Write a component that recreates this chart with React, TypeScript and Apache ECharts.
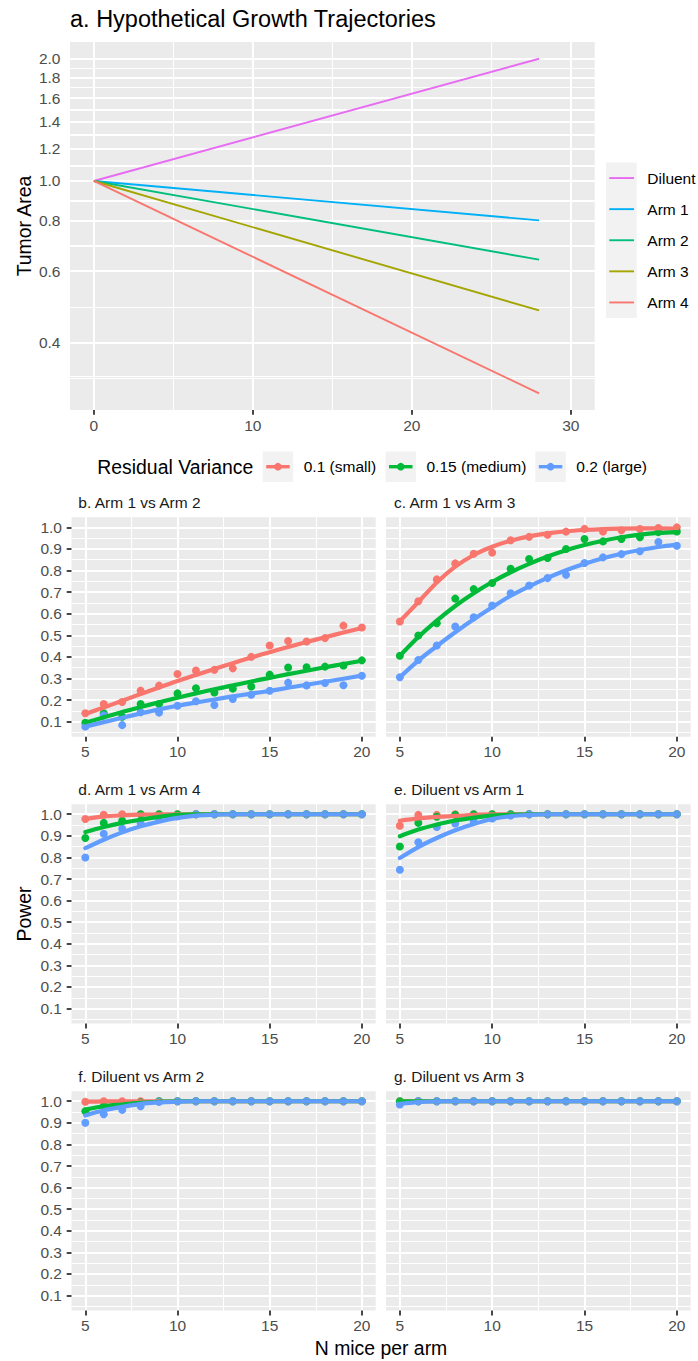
import React, { useEffect, useRef } from 'react';
import * as echarts from 'echarts';

// ---------- Panel a: hypothetical growth trajectories ----------
const growthDays = [0, 28];
const growthArms = ['Diluent', 'Arm 1', 'Arm 2', 'Arm 3', 'Arm 4'];
const growthColors = ['#E76BF3', '#00B0F6', '#00BF7D', '#A3A500', '#F8766D'];
const diluentArea = [1.0, 2.0];
const arm1Area = [1.0, 0.8];
const arm2Area = [1.0, 0.64];
const arm3Area = [1.0, 0.48];
const arm4Area = [1.0, 0.3];
const areaTicks = [0.4, 0.6, 0.8, 1.0, 1.2, 1.4, 1.6, 1.8, 2.0];
const areaMinorTicks = [0.327, 0.49, 0.693, 0.894, 1.095, 1.296, 1.497, 1.697, 1.897];
const dayTicks = [0, 10, 20, 30];
const dayMinorTicks = [5, 15, 25];

// ---------- Panels b-g: power ----------
const nMice = [5, 6, 7, 8, 9, 10, 11, 12, 13, 14, 15, 16, 17, 18, 19, 20];
const varianceLabels = ['0.1 (small)', '0.15 (medium)', '0.2 (large)'];
const varianceColors = ['#F8766D', '#00BA38', '#619CFF'];
const powerTicks = [0.1, 0.2, 0.3, 0.4, 0.5, 0.6, 0.7, 0.8, 0.9, 1.0];
const powerMinorTicks = [0.05, 0.15, 0.25, 0.35, 0.45, 0.55, 0.65, 0.75, 0.85, 0.95];
const nTicks = [5, 10, 15, 20];
const nMinorTicks = [7.5, 12.5, 17.5];
const panelTitles = [
  'b. Arm 1 vs Arm 2',
  'c. Arm 1 vs Arm 3',
  'd. Arm 1 vs Arm 4',
  'e. Diluent vs Arm 1',
  'f. Diluent vs Arm 2',
  'g. Diluent vs Arm 3',
];

const bSmallPts = [0.139, 0.182, 0.191, 0.244, 0.267, 0.321, 0.337, 0.34, 0.347, 0.4, 0.453, 0.474, 0.471, 0.487, 0.545, 0.536];
const bSmallFit = [0.136, 0.166, 0.197, 0.228, 0.258, 0.288, 0.316, 0.344, 0.371, 0.397, 0.422, 0.446, 0.469, 0.491, 0.513, 0.534];
const bMediumPts = [0.095, 0.139, 0.123, 0.182, 0.182, 0.231, 0.255, 0.235, 0.253, 0.263, 0.318, 0.351, 0.352, 0.355, 0.36, 0.384];
const bMediumFit = [0.095, 0.12, 0.145, 0.168, 0.19, 0.211, 0.231, 0.25, 0.268, 0.286, 0.303, 0.32, 0.336, 0.352, 0.367, 0.382];
const bLargePts = [0.077, 0.13, 0.084, 0.144, 0.142, 0.174, 0.195, 0.177, 0.205, 0.225, 0.243, 0.281, 0.268, 0.279, 0.269, 0.313];
const bLargeFit = [0.077, 0.098, 0.118, 0.138, 0.157, 0.174, 0.189, 0.203, 0.217, 0.23, 0.243, 0.257, 0.271, 0.285, 0.299, 0.313];

const cSmallPts = [0.564, 0.658, 0.759, 0.833, 0.878, 0.883, 0.94, 0.956, 0.966, 0.98, 0.993, 0.981, 0.986, 0.992, 0.997, 1.0];
const cSmallFit = [0.565, 0.654, 0.745, 0.818, 0.872, 0.91, 0.938, 0.958, 0.972, 0.982, 0.988, 0.992, 0.994, 0.995, 0.995, 0.993];
const cMediumPts = [0.405, 0.499, 0.556, 0.67, 0.714, 0.742, 0.808, 0.853, 0.858, 0.9, 0.946, 0.935, 0.946, 0.954, 0.978, 0.981];
const cMediumFit = [0.405, 0.492, 0.568, 0.636, 0.695, 0.747, 0.792, 0.831, 0.865, 0.894, 0.918, 0.938, 0.954, 0.966, 0.974, 0.978];
const cLargePts = [0.306, 0.386, 0.453, 0.541, 0.584, 0.638, 0.695, 0.731, 0.765, 0.78, 0.835, 0.861, 0.876, 0.889, 0.932, 0.915];
const cLargeFit = [0.306, 0.383, 0.45, 0.514, 0.574, 0.63, 0.683, 0.727, 0.766, 0.801, 0.831, 0.857, 0.878, 0.895, 0.909, 0.92];

const dSmallPts = [0.978, 0.998, 1, 1, 1, 1, 1, 1, 1, 1, 1, 1, 1, 1, 1, 1];
const dSmallFit = [0.978, 0.99, 0.995, 0.998, 0.999, 1, 1, 1, 1, 1, 1, 1, 1, 1, 1, 1];
const dMediumPts = [0.89, 0.96, 0.97, 1, 1, 1, 1, 1, 1, 1, 1, 1, 1, 1, 1, 1];
const dMediumFit = [0.918, 0.941, 0.96, 0.975, 0.988, 0.997, 1, 1, 1, 1, 1, 1, 1, 1, 1, 1];
const dLargePts = [0.8, 0.91, 0.933, 0.96, 0.98, 0.99, 1, 1, 1, 1, 1, 1, 1, 1, 1, 1];
const dLargeFit = [0.843, 0.882, 0.916, 0.944, 0.966, 0.983, 0.994, 0.998, 1, 1, 1, 1, 1, 1, 1, 1];

const eSmallPts = [0.947, 0.997, 0.997, 1, 1, 1, 1, 1, 1, 1, 1, 1, 1, 1, 1, 1];
const eSmallFit = [0.97, 0.981, 0.988, 0.992, 0.997, 1, 1, 1, 1, 1, 1, 1, 1, 1, 1, 1];
const eMediumPts = [0.851, 0.96, 0.988, 0.997, 1, 1, 1, 1, 1, 1, 1, 1, 1, 1, 1, 1];
const eMediumFit = [0.898, 0.929, 0.952, 0.971, 0.984, 0.994, 0.998, 1, 1, 1, 1, 1, 1, 1, 1, 1];
const eLargePts = [0.743, 0.87, 0.941, 0.957, 0.967, 0.98, 0.994, 1, 1, 1, 1, 1, 1, 1, 1, 1];
const eLargeFit = [0.797, 0.848, 0.89, 0.926, 0.955, 0.978, 0.991, 0.997, 1, 1, 1, 1, 1, 1, 1, 1];

const fSmallPts = [0.998, 1, 1, 1, 1, 1, 1, 1, 1, 1, 1, 1, 1, 1, 1, 1];
const fSmallFit = [0.998, 0.999, 1, 1, 1, 1, 1, 1, 1, 1, 1, 1, 1, 1, 1, 1];
const fMediumPts = [0.954, 0.977, 0.985, 0.995, 1, 1, 1, 1, 1, 1, 1, 1, 1, 1, 1, 1];
const fMediumFit = [0.961, 0.977, 0.985, 0.992, 0.997, 1, 1, 1, 1, 1, 1, 1, 1, 1, 1, 1];
const fLargePts = [0.9, 0.94, 0.96, 0.977, 0.997, 1, 1, 1, 1, 1, 1, 1, 1, 1, 1, 1];
const fLargeFit = [0.934, 0.958, 0.974, 0.988, 0.995, 0.998, 1, 1, 1, 1, 1, 1, 1, 1, 1, 1];

const gSmallPts = [1, 1, 1, 1, 1, 1, 1, 1, 1, 1, 1, 1, 1, 1, 1, 1];
const gSmallFit = [1, 1, 1, 1, 1, 1, 1, 1, 1, 1, 1, 1, 1, 1, 1, 1];
const gMediumPts = [1, 1, 1, 1, 1, 1, 1, 1, 1, 1, 1, 1, 1, 1, 1, 1];
const gMediumFit = [1, 1, 1, 1, 1, 1, 1, 1, 1, 1, 1, 1, 1, 1, 1, 1];
const gLargePts = [0.985, 1, 1, 1, 1, 1, 1, 1, 1, 1, 1, 1, 1, 1, 1, 1];
const gLargeFit = [0.988, 0.996, 0.999, 1, 1, 1, 1, 1, 1, 1, 1, 1, 1, 1, 1, 1];

const panelPoints = [
  [bSmallPts, bMediumPts, bLargePts],
  [cSmallPts, cMediumPts, cLargePts],
  [dSmallPts, dMediumPts, dLargePts],
  [eSmallPts, eMediumPts, eLargePts],
  [fSmallPts, fMediumPts, fLargePts],
  [gSmallPts, gMediumPts, gLargePts],
];
const panelFits = [
  [bSmallFit, bMediumFit, bLargeFit],
  [cSmallFit, cMediumFit, cLargeFit],
  [dSmallFit, dMediumFit, dLargeFit],
  [eSmallFit, eMediumFit, eLargeFit],
  [fSmallFit, fMediumFit, fLargeFit],
  [gSmallFit, gMediumFit, gLargeFit],
];

// ---------- styling ----------
const FONT = '"Liberation Sans", Arial, Helvetica, sans-serif';
const PANEL_BG = '#EBEBEB';
const AXIS_TEXT = '#4D4D4D';
const TICK_COLOR = '#333333';

const gridA = { left: 70, top: 42, width: 524.7, height: 368 };
const colLeft = [71.5, 386];
const colWidth = [304.2, 304.7];
const rowTop = [517.3, 804.2, 1091.2];
const rowHeight = 219.4;

function axisPair(
  dim: 'x' | 'y',
  gridIndex: number,
  type: string,
  min: number,
  max: number,
  ticks: number[],
  minor: number[],
  showLabels: boolean,
  fmt: (v: number) => string
) {
  const main: any = {
    type,
    gridIndex,
    min,
    max,
    position: dim === 'x' ? 'bottom' : 'left',
    axisLine: { show: false },
    axisTick: {
      show: showLabels,
      customValues: ticks,
      length: 4.8,
      lineStyle: { color: TICK_COLOR, width: 1.8 },
    },
    axisLabel: {
      show: showLabels,
      customValues: ticks,
      margin: dim === 'x' ? 7 : 9.5,
      color: AXIS_TEXT,
      fontSize: 15.5,
      fontFamily: FONT,
      formatter: (v: number) => fmt(v),
    },
    splitLine: { show: true, lineStyle: { color: '#FFFFFF', width: 2.1 } },
    minorSplitLine: { show: false },
    splitArea: { show: false },
  };
  if (type === 'log') main.logBase = 10;
  const minorAxis: any = {
    type,
    gridIndex,
    min,
    max,
    position: dim === 'x' ? 'bottom' : 'left',
    axisLine: { show: false },
    axisTick: { show: false, customValues: minor },
    axisLabel: { show: false },
    splitLine: { show: true, lineStyle: { color: '#FFFFFF', width: 1.05 } },
    minorSplitLine: { show: false },
    splitArea: { show: false },
  };
  if (type === 'log') minorAxis.logBase = 10;
  return [main, minorAxis];
}

function buildOption() {
  const grids: any[] = [];
  const xAxes: any[] = [];
  const yAxes: any[] = [];
  const series: any[] = [];
  const graphics: any[] = [];

  const gridBase = {
    show: true,
    backgroundColor: PANEL_BG,
    borderWidth: 0,
    containLabel: false,
    outerBoundsMode: 'none',
  };

  // Panel a
  grids.push({ ...gridBase, ...gridA });
  xAxes.push(...axisPair('x', 0, 'value', -1.5, 31.5, dayTicks, dayMinorTicks, true, (v) => String(v)));
  yAxes.push(...axisPair('y', 0, 'log', 0.2729, 2.199, areaTicks, areaMinorTicks, true, (v) => v.toFixed(1)));
  const areaSeries = [diluentArea, arm1Area, arm2Area, arm3Area, arm4Area];
  // horizontal grid lines on the log axis, placed through the axis scale
  const areaGridLines = [
    ...areaTicks.map((v) => ({ yAxis: v, lineStyle: { color: '#FFFFFF', width: 2.1, type: 'solid' } })),
    ...areaMinorTicks.map((v) => ({ yAxis: v, lineStyle: { color: '#FFFFFF', width: 1.05, type: 'solid' } })),
  ];
  areaSeries.forEach((vals, i) => {
    const s: any = {
      type: 'line',
      name: growthArms[i],
      xAxisIndex: 0,
      yAxisIndex: 0,
      data: growthDays.map((d, j) => [d, vals[j]]),
      showSymbol: false,
      symbol: 'none',
      lineStyle: { color: growthColors[i], width: 1.9 },
      itemStyle: { color: growthColors[i] },
      z: 3,
    };
    if (i === 0) {
      s.markLine = {
        silent: true,
        z: 1,
        symbol: ['none', 'none'],
        label: { show: false },
        emphasis: { disabled: true },
        lineStyle: { color: '#FFFFFF', type: 'solid' },
        data: areaGridLines,
      };
    }
    series.push(s);
  });

  // Panels b-g
  panelTitles.forEach((title, p) => {
    const col = p % 2;
    const row = Math.floor(p / 2);
    const gi = p + 1;
    grids.push({ ...gridBase, left: colLeft[col], top: rowTop[row], width: colWidth[col], height: rowHeight });
    xAxes.push(...axisPair('x', gi, 'value', 4.25, 20.75, nTicks, nMinorTicks, true, (v) => String(v)));
    yAxes.push(...axisPair('y', gi, 'value', 0.0305, 1.0465, powerTicks, powerMinorTicks, col === 0, (v) => v.toFixed(1)));
    const axisIdx = gi * 2;
    panelPoints[p].forEach((vals, k) => {
      series.push({
        type: 'scatter',
        name: varianceLabels[k],
        xAxisIndex: axisIdx,
        yAxisIndex: axisIdx,
        data: nMice.map((n, j) => [n, vals[j]]),
        symbol: 'circle',
        symbolSize: 8,
        itemStyle: { color: varianceColors[k], opacity: 1 },
        z: 2,
      });
    });
    panelFits[p].forEach((vals, k) => {
      series.push({
        type: 'line',
        name: varianceLabels[k] + ' fit',
        xAxisIndex: axisIdx,
        yAxisIndex: axisIdx,
        data: nMice.map((n, j) => [n, vals[j]]),
        showSymbol: false,
        symbol: 'none',
        smooth: 0.35,
        lineStyle: { color: varianceColors[k], width: 4.2, cap: 'round' },
        itemStyle: { color: varianceColors[k] },
        z: 3,
      });
    });
    graphics.push({
      type: 'text',
      x: colLeft[col] + 6.8 + (col === 1 ? 1.2 : 0),
      y: rowTop[row] - 15.2,
      style: {
        text: title,
        fill: '#1A1A1A',
        fontSize: 15.5,
        fontFamily: FONT,
        align: 'left',
        verticalAlign: 'middle',
        textAlign: 'left',
        textVerticalAlign: 'middle',
      },
    });
  });

  const textStyle = (text: string, size: number, align: string, color = '#000000') => ({
    text,
    fill: color,
    fontSize: size,
    fontFamily: FONT,
    align,
    verticalAlign: 'middle',
    textAlign: align,
    textVerticalAlign: 'middle',
  });

  // Title
  graphics.push({ type: 'text', x: 70, y: 18.5, style: textStyle('a. Hypothetical Growth Trajectories', 23.5, 'left') });
  // Axis titles
  graphics.push({ type: 'text', x: 23.5, y: 226, rotation: Math.PI / 2, style: textStyle('Tumor Area', 19.4, 'center') });
  graphics.push({ type: 'text', x: 23.5, y: 914, rotation: Math.PI / 2, style: textStyle('Power', 19.4, 'center') });
  graphics.push({ type: 'text', x: 381, y: 1348, style: textStyle('N mice per arm', 19.4, 'center') });

  // Legend for panel a
  const keyX = 606;
  const keyTop = 162.5;
  const keyH = 31.1;
  graphics.push({
    type: 'rect',
    shape: { x: keyX, y: keyTop, width: 30.7, height: keyH * growthArms.length },
    style: { fill: '#F2F2F2' },
  });
  growthArms.forEach((name, i) => {
    const cy = keyTop + keyH * (i + 0.5);
    graphics.push({
      type: 'line',
      shape: { x1: keyX + 3.3, y1: cy, x2: keyX + 28, y2: cy },
      style: { stroke: growthColors[i], lineWidth: 1.9 },
    });
    graphics.push({ type: 'text', x: keyX + 41.3, y: cy, style: textStyle(name, 15.5, 'left') });
  });

  // Legend for power panels
  const legY = 466.7;
  graphics.push({ type: 'text', x: 97.3, y: legY, style: textStyle('Residual Variance', 19.4, 'left') });
  const legBoxX = [262.7, 385.5, 535.3];
  varianceLabels.forEach((lab, k) => {
    const bx = legBoxX[k];
    graphics.push({
      type: 'rect',
      shape: { x: bx, y: legY - 15.25, width: 30.5, height: 30.5 },
      style: { fill: '#F2F2F2' },
    });
    graphics.push({
      type: 'line',
      shape: { x1: bx + 3.5, y1: legY, x2: bx + 27, y2: legY },
      style: { stroke: varianceColors[k], lineWidth: 3.4 },
    });
    graphics.push({
      type: 'circle',
      shape: { cx: bx + 15.25, cy: legY, r: 3.8 },
      style: { fill: varianceColors[k] },
    });
    graphics.push({ type: 'text', x: bx + 41, y: legY, style: textStyle(lab, 15.5, 'left') });
  });

  return {
    animation: false,
    backgroundColor: '#FFFFFF',
    textStyle: { fontFamily: FONT },
    grid: grids,
    xAxis: xAxes,
    yAxis: yAxes,
    series,
    graphic: { elements: graphics },
  };
}

const App = () => {
  const ref = useRef<HTMLDivElement>(null);
  useEffect(() => {
    document.body.style.margin = '0';
    const chart = echarts.init(ref.current as HTMLDivElement, null, {
      renderer: 'svg',
      width: 698,
      height: 1361,
    });
    chart.setOption(buildOption() as any);
    return () => {
      chart.dispose();
    };
  }, []);
  return <div ref={ref} style={{ width: 698, height: 1361, background: '#FFFFFF' }} />;
};

export default App;
